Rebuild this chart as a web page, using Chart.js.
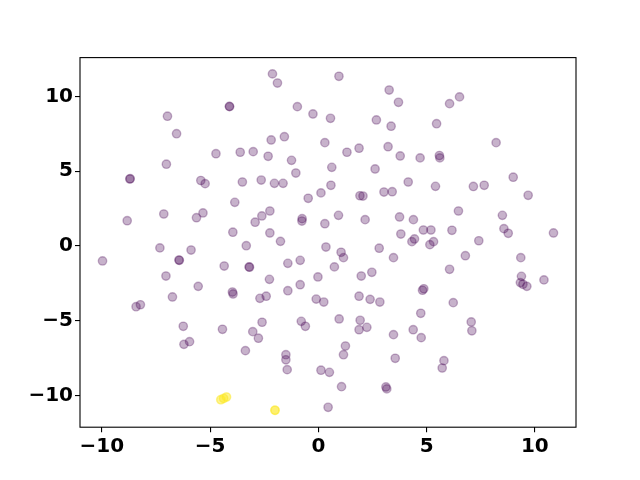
<!DOCTYPE html>
<html>
<head>
<meta charset="utf-8">
<style>
  html, body { margin: 0; padding: 0; background: #fff; }
  canvas { display: block; }
</style>
<script src="https://cdn.jsdelivr.net/npm/chart.js@4/dist/chart.umd.min.js"></script>
</head>
<body>
<canvas id="scatter" width="640" height="480"></canvas>
<script>
// cluster 0 (purple)
const purpleX = [
  -2.12, -1.89, 0.95, 3.27, 6.52, 3.70, 6.06, -4.11, -4.10, -0.97,
  -6.97, -0.25, 0.56, 2.68, 3.36, 5.46, -6.55, -2.18, -1.57, 0.30,
  8.21, -4.73, -3.61, -3.01, -2.32, 1.32, 1.88, 3.22, 3.78, 4.70,
  5.59, 5.61, -7.02, -1.24, 0.62, 2.62, -1.04, 9.00, -8.71, -8.69,
  -5.43, -5.23, -3.51, -2.64, -2.03, -1.63, 4.15, 5.41, 7.16, 7.66,
  0.58, 0.12, -0.47, 9.69, 1.92, 2.06, 3.03, 3.41, -3.86, -7.14,
  -8.83, -5.63, -5.33, -2.61, -2.24, -2.92, -0.75, -0.76, 0.30, 0.93,
  2.16, 3.75, 4.39, 6.47, 8.50, -3.95, -2.24, -1.75, -3.33, 0.35,
  4.85, 5.20, 6.17, 3.81, 4.32, 4.44, 5.15, 5.32, 8.57, 8.77,
  10.86, 7.41, -7.32, -5.88, -6.44, -6.42, -9.97, -7.04, -5.55, -6.74,
  -8.42, -8.22, -6.24, -6.21, -5.95, -4.35, -3.20, -3.18, -1.41, -0.84,
  -2.26, -0.84, -0.02, -1.41, -3.97, -3.94, -2.70, -2.41, -0.10, 0.25,
  1.98, 2.47, 0.74, 1.05, 1.16, 2.81, 3.47, 6.06, 4.87, 4.81,
  1.88, 2.39, 2.84, 6.23, 6.79, 9.35, 9.38, 9.33, 9.45, 9.63,
  10.42, -4.43, -3.03, -2.60, -2.77, -0.79, -0.60, -3.37, -1.50, -1.50,
  -1.44, 0.12, 0.51, 0.45, 0.96, 1.93, 1.88, 2.24, 4.73, 3.47,
  4.38, 4.75, 1.25, 1.16, 3.55, 5.80, 5.72, 1.07, 3.12, 3.16,
  7.06, 7.09
];
const purpleY = [
  11.51, 10.90, 11.35, 10.43, 9.97, 9.61, 9.52, 9.34, 9.32, 9.32,
  8.68, 8.83, 8.54, 8.43, 8.01, 8.18, 7.51, 7.09, 7.31, 6.91,
  6.91, 6.17, 6.27, 6.31, 6.00, 6.27, 6.54, 6.64, 6.02, 5.89,
  6.05, 5.89, 5.47, 5.73, 5.26, 5.15, 4.88, 4.60, 4.48, 4.50,
  4.38, 4.17, 4.28, 4.41, 4.19, 4.19, 4.28, 3.99, 3.98, 4.06,
  4.06, 3.55, 3.19, 3.39, 3.36, 3.34, 3.61, 3.63, 2.92, 2.14,
  1.69, 1.89, 2.21, 2.01, 2.34, 1.59, 1.83, 1.67, 1.49, 2.05,
  1.76, 1.94, 1.76, 2.34, 2.05, 0.92, 0.87, 0.31, 0.02, -0.07,
  1.07, 1.07, 1.05, 0.80, 0.29, 0.47, 0.09, 0.29, 1.16, 0.85,
  0.87, 0.35, -0.13, -0.27, -0.94, -0.96, -1.00, -2.01, -2.70, -3.41,
  -4.06, -3.93, -5.37, -6.58, -6.40, -1.34, -1.40, -1.42, -1.16, -0.96,
  -2.23, -2.59, -2.07, -2.99, -3.08, -3.21, -3.50, -3.36, -3.55, -3.75,
  -2.01, -1.76, -1.40, -0.42, -0.78, -0.15, -0.78, -1.56, -2.86, -2.96,
  -3.36, -3.57, -3.75, -3.79, -0.65, -0.78, -2.03, -2.45, -2.56, -2.70,
  -2.27, -5.57, -5.73, -5.10, -6.17, -5.04, -5.37, -7.00, -7.27, -7.61,
  -8.27, -8.31, -8.45, -10.79, -4.88, -4.97, -5.60, -5.44, -4.50, -5.93,
  -5.60, -6.13, -6.69, -7.27, -7.51, -7.67, -8.16, -9.41, -9.43, -9.56,
  -5.08, -5.67
];
// cluster 1 (yellow) - several samples sit on top of each other
const yellowX = [-4.51, -4.50, -4.37, -4.38, -4.24, -4.25, -2.00, -2.00, -2.01];
const yellowY = [-10.28, -10.28, -10.20, -10.19, -10.10, -10.10, -10.99, -10.99, -10.98];

const xTicks = [-10, -5, 0, 5, 10];
const yTicks = [-10, -5, 0, 5, 10];

const PURPLE = "rgba(68, 1, 84, 0.3)";
const YELLOW = "rgba(253, 231, 37, 0.3)";

function toPoints(xs, ys) {
  return xs.map((x, i) => ({ x, y: ys[i] }));
}

function minusSign(value) {
  return String(value).replace("-", "\u2212");
}

const frame = {
  id: "frame",
  afterDraw(chart) {
    const { ctx, chartArea } = chart;
    ctx.save();
    ctx.strokeStyle = "#000";
    ctx.lineWidth = 1.1;
    ctx.strokeRect(chartArea.left, chartArea.top, chartArea.right - chartArea.left, chartArea.bottom - chartArea.top);
    ctx.restore();
  }
};

const tickFont = { family: "'DejaVu Sans'", size: 20, weight: "bold" };

function axis(min, max, values, pad, fit) {
  return {
    type: "linear",
    min,
    max,
    afterBuildTicks: (scale) => {
      scale.ticks = values.map((v) => ({ value: v }));
    },
    afterFit: fit,
    border: { display: false },
    grid: {
      drawOnChartArea: false,
      drawTicks: true,
      tickLength: 5,
      tickColor: "#000",
      lineWidth: 1.1
    },
    ticks: {
      color: "#000",
      font: tickFont,
      padding: pad,
      maxRotation: 0,
      autoSkip: false,
      callback: (value) => minusSign(value)
    }
  };
}

new Chart(document.getElementById("scatter"), {
  type: "scatter",
  data: {
    datasets: [
      {
        data: toPoints(purpleX, purpleY),
        backgroundColor: PURPLE,
        borderColor: PURPLE,
        borderWidth: 1.39,
        pointRadius: 4.17
      },
      {
        data: toPoints(yellowX, yellowY),
        backgroundColor: YELLOW,
        borderColor: YELLOW,
        borderWidth: 1.39,
        pointRadius: 4.17
      }
    ]
  },
  options: {
    responsive: false,
    animation: false,
    devicePixelRatio: 1,
    events: [],
    layout: { padding: { top: 57.6, right: 64, bottom: 0, left: 0 } },
    plugins: {
      legend: { display: false },
      tooltip: { enabled: false }
    },
    scales: {
      x: axis(-11.01, 11.90, xTicks, 3, (scale) => { scale.height = 52.8; }),
      y: axis(-12.12, 12.60, yTicks, 2, (scale) => { scale.width = 80; })
    }
  },
  plugins: [frame]
});
</script>
</body>
</html>
